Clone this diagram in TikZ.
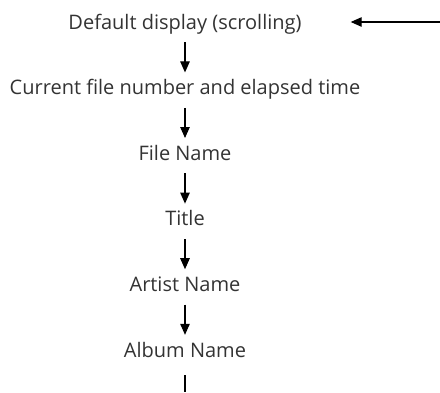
\documentclass[tikz,border=0pt]{standalone}
\usepackage{fontspec}
\setmainfont{Open Sans}
\usetikzlibrary{positioning,arrows.meta}

\begin{document}
\begin{tikzpicture}[
    node distance=44.2pt,
    item/.style={inner sep=0pt, text height=16pt, text depth=5pt, font=\fontsize{20}{24}\selectfont, text=black!80},
    flow/.style={line width=1.1pt, -{Triangle[length=11pt, width=9.5pt]}},
    step line/.style={flow, shorten <=8pt, shorten >=6pt}
  ]
  \useasboundingbox (0pt,0pt) rectangle (440pt,-392pt);
  \node[item, anchor=base] (dflt) at (185pt,-29pt) {Default display (scrolling)};
  \node[item, below=of dflt] (elapsed) {Current file number and elapsed time};
  \node[item, below=of elapsed] (fname) {File Name};
  \node[item, below=of fname] (title) {Title};
  \node[item, below=of title] (artist) {Artist Name};
  \node[item, below=of artist] (album) {Album Name};
  \coordinate (loop) at (440pt,-22pt);
  \coordinate (floor) at (0pt,-392pt);
  \draw[step line] (dflt.south) -- (elapsed.north);
  \draw[step line] (elapsed.south) -- (fname.north);
  \draw[step line] (fname.south) -- (title.north);
  \draw[step line] (title.south) -- (artist.north);
  \draw[step line] (artist.south) -- (album.north);
  \draw[line width=1.1pt, shorten <=13pt] (album.south) -- (album.south |- floor);
  \draw[flow, shorten >=49pt] (loop) -- (loop -| dflt.east);
\end{tikzpicture}
\end{document}
